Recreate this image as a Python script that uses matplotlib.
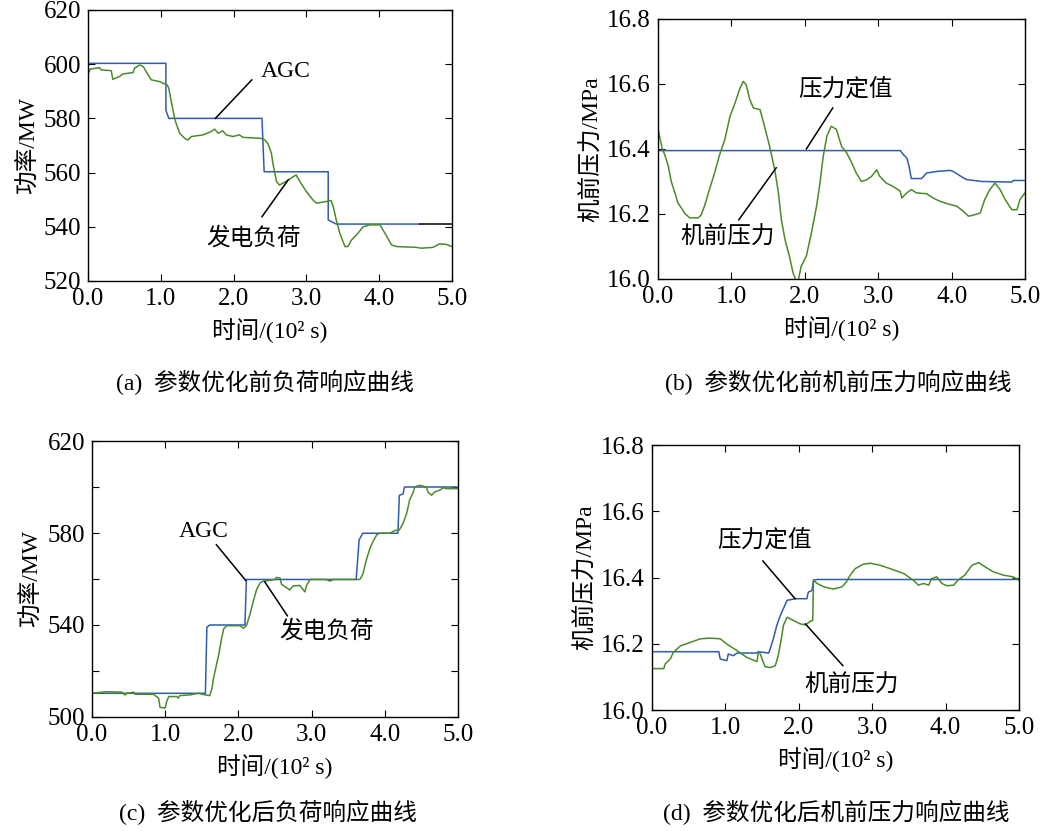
import matplotlib
matplotlib.use('Agg')
import matplotlib.pyplot as plt

plt.rcParams['font.family'] = ['Liberation Serif', 'Noto Sans CJK SC']
plt.rcParams['axes.unicode_minus'] = False

BLUE = '#2f5cad'
GREEN = '#4a8a2a'

# ---- (a) load response before optimisation ----
agc_a_t = [0.0, 1.07, 1.07, 1.11, 2.39, 2.42, 3.30, 3.30, 3.41, 4.56]
agc_a_p = [600.3, 600.3, 583.0, 580.0, 580.0, 560.3, 560.3, 542.5, 541.0, 541.0]
agc_a_tail_t = [4.56, 5.0]
agc_a_tail_p = [541.0, 541.0]
gen_a_t = [0.00, 0.03, 0.16, 0.18, 0.32, 0.34, 0.43, 0.48, 0.62, 0.64, 0.71, 0.76, 0.80, 0.87,
           0.98, 1.09, 1.11, 1.14, 1.19, 1.21, 1.26, 1.33, 1.37, 1.42, 1.58, 1.69, 1.74, 1.79,
           1.85, 1.90, 1.99, 2.08, 2.13, 2.38, 2.43, 2.47, 2.52, 2.54, 2.59, 2.63, 2.72, 2.82,
           2.86, 2.91, 3.00, 3.09, 3.14, 3.27, 3.34, 3.37, 3.41, 3.46, 3.53, 3.57, 3.62, 3.69,
           3.78, 3.87, 4.01, 4.08, 4.17, 4.24, 4.51, 4.58, 4.74, 4.83, 4.92, 5.00]
gen_a_p = [596.0, 598.2, 598.7, 597.9, 597.6, 594.4, 595.4, 596.4, 596.9, 598.5, 599.7, 599.1,
           597.2, 594.2, 593.6, 592.3, 591.1, 586.8, 580.0, 578.2, 574.5, 572.6, 572.0, 573.3,
           573.9, 575.1, 576.0, 574.5, 575.4, 573.9, 573.3, 573.9, 573.0, 572.6, 572.0, 570.8,
           567.1, 563.4, 556.7, 555.4, 556.7, 558.5, 559.1, 556.7, 553.0, 549.9, 548.7, 549.3,
           549.7, 547.4, 542.5, 537.6, 532.7, 532.7, 535.1, 537.0, 540.0, 540.7, 540.7, 537.6,
           533.3, 532.7, 532.4, 532.1, 532.4, 533.7, 533.5, 532.7]

# ---- (b) throttle pressure before optimisation ----
set_b_t = [0.0, 3.30, 3.34, 3.39, 3.42, 3.45, 3.59, 3.66, 3.80, 3.98, 4.02, 4.11, 4.20, 4.41,
           4.82, 4.84, 5.0]
set_b_p = [16.395, 16.395, 16.383, 16.372, 16.347, 16.309, 16.309, 16.326, 16.331, 16.334,
           16.331, 16.318, 16.306, 16.300, 16.298, 16.303, 16.303]
prs_b_t = [0.00, 0.02, 0.06, 0.09, 0.14, 0.18, 0.23, 0.27, 0.32, 0.36, 0.43, 0.55, 0.59, 0.64,
           0.70, 0.77, 0.84, 0.91, 0.98, 1.05, 1.11, 1.16, 1.20, 1.25, 1.30, 1.39, 1.45, 1.52,
           1.59, 1.64, 1.68, 1.73, 1.79, 1.84, 1.89, 1.91, 1.95, 2.02, 2.09, 2.16, 2.20, 2.25,
           2.30, 2.36, 2.43, 2.50, 2.57, 2.64, 2.70, 2.77, 2.84, 2.91, 2.98, 3.02, 3.11, 3.20,
           3.30, 3.32, 3.39, 3.45, 3.52, 3.66, 3.75, 3.84, 3.98, 4.07, 4.16, 4.23, 4.32, 4.39,
           4.45, 4.52, 4.59, 4.66, 4.73, 4.82, 4.89, 4.93, 5.00]
prs_b_p = [16.465, 16.439, 16.398, 16.383, 16.347, 16.300, 16.265, 16.234, 16.218, 16.203,
           16.188, 16.188, 16.198, 16.229, 16.275, 16.326, 16.383, 16.429, 16.500, 16.542,
           16.583, 16.608, 16.598, 16.552, 16.526, 16.521, 16.470, 16.408, 16.336, 16.265,
           16.183, 16.121, 16.070, 16.018, 15.990, 15.995, 16.039, 16.070, 16.142, 16.224,
           16.285, 16.377, 16.439, 16.470, 16.460, 16.408, 16.388, 16.357, 16.326, 16.300,
           16.305, 16.316, 16.336, 16.316, 16.295, 16.285, 16.270, 16.249, 16.265, 16.275,
           16.265, 16.262, 16.249, 16.239, 16.229, 16.224, 16.208, 16.193, 16.198, 16.203,
           16.244, 16.275, 16.295, 16.275, 16.244, 16.213, 16.213, 16.244, 16.265]

# ---- (c) load response after optimisation ----
agc_c_t = [0.0, 1.55, 1.57, 1.61, 2.09, 2.11, 3.61, 3.65, 3.70, 4.18, 4.20, 4.25, 4.27, 5.0]
agc_c_p = [510.3, 510.3, 539.0, 540.0, 540.0, 559.8, 559.8, 577.0, 579.9, 579.9, 596.4,
           597.0, 600.0, 600.0]
gen_c_t = [0.00, 0.20, 0.41, 0.45, 0.48, 0.57, 0.59, 0.84, 0.91, 0.93, 1.00, 1.02, 1.05, 1.16,
           1.18, 1.20, 1.34, 1.45, 1.55, 1.61, 1.64, 1.66, 1.70, 1.73, 1.77, 1.80, 1.84, 2.02,
           2.07, 2.11, 2.16, 2.20, 2.25, 2.30, 2.34, 2.50, 2.52, 2.57, 2.59, 2.66, 2.70, 2.75,
           2.84, 2.91, 2.93, 2.98, 3.20, 3.25, 3.30, 3.66, 3.70, 3.75, 3.80, 3.84, 3.89, 3.93,
           4.07, 4.14, 4.20, 4.25, 4.30, 4.34, 4.39, 4.41, 4.48, 4.57, 4.59, 4.64, 4.68, 4.75,
           4.80, 4.84, 5.00]
gen_c_p = [510.3, 511.0, 510.8, 509.6, 510.3, 510.8, 509.9, 509.9, 508.2, 504.2, 503.9, 506.7,
           508.9, 508.9, 508.2, 509.3, 509.6, 510.3, 509.6, 509.3, 512.5, 516.8, 522.5, 526.8,
           534.0, 538.3, 539.7, 539.7, 538.6, 539.7, 544.8, 549.8, 555.5, 558.4, 559.0, 559.8,
           560.7, 560.4, 557.7, 556.2, 555.2, 557.0, 557.2, 554.4, 557.0, 559.8, 559.8, 559.1,
           559.8, 559.8, 562.0, 568.4, 573.5, 576.3, 579.2, 579.9, 579.9, 581.1, 581.3, 584.2,
           588.5, 594.3, 597.8, 600.0, 600.7, 600.0, 597.8, 596.4, 597.8, 598.6, 599.7, 599.3,
           599.3]

# ---- (d) throttle pressure after optimisation ----
set_d_t = [0.0, 0.91, 0.93, 1.02, 1.04, 1.11, 1.16, 1.29, 1.43, 1.45, 1.59, 1.61, 1.66, 1.70,
           1.75, 1.79, 1.84, 1.95, 2.11, 2.13, 2.18, 2.20, 2.25, 5.0]
set_d_p = [16.176, 16.176, 16.154, 16.149, 16.169, 16.164, 16.172, 16.172, 16.172, 16.176,
           16.172, 16.184, 16.220, 16.255, 16.286, 16.306, 16.331, 16.336, 16.336, 16.356,
           16.361, 16.392, 16.394, 16.394]
prs_d_t = [0.00, 0.16, 0.18, 0.25, 0.29, 0.39, 0.52, 0.66, 0.79, 0.93, 1.02, 1.16, 1.29, 1.43,
           1.45, 1.47, 1.54, 1.61, 1.68, 1.72, 1.77, 1.79, 1.84, 1.93, 2.02, 2.09, 2.16, 2.19,
           2.20, 2.25, 2.34, 2.47, 2.59, 2.65, 2.70, 2.77, 2.88, 2.97, 3.11, 3.24, 3.43, 3.56,
           3.63, 3.70, 3.77, 3.81, 3.88, 3.95, 4.02, 4.11, 4.17, 4.26, 4.36, 4.45, 4.54, 4.65,
           4.79, 4.92, 5.00]
prs_d_p = [16.125, 16.125, 16.139, 16.154, 16.174, 16.194, 16.204, 16.215, 16.217, 16.215,
           16.199, 16.179, 16.159, 16.146, 16.176, 16.172, 16.131, 16.128, 16.134, 16.164,
           16.225, 16.255, 16.280, 16.270, 16.260, 16.257, 16.268, 16.270, 16.392, 16.382,
           16.372, 16.365, 16.372, 16.387, 16.407, 16.427, 16.440, 16.443, 16.437, 16.427,
           16.412, 16.392, 16.377, 16.382, 16.377, 16.397, 16.402, 16.382, 16.375, 16.377,
           16.392, 16.407, 16.437, 16.445, 16.432, 16.417, 16.407, 16.402, 16.392]

time_ticks = [0, 1, 2, 3, 4, 5]
time_labels = ['0.0', '1.0', '2.0', '3.0', '4.0', '5.0']
pa_ticks = [520, 540, 560, 580, 600, 620]
pc_ticks = [500, 520, 540, 560, 580, 600, 620]
pc_labels = ['500', '', '540', '', '580', '', '620']
pr_ticks = [16.0, 16.2, 16.4, 16.6, 16.8]
pr_labels = ['16.0', '16.2', '16.4', '16.6', '16.8']

captions = ['(a)  参数优化前负荷响应曲线', '(b)  参数优化前机前压力响应曲线',
            '(c)  参数优化后负荷响应曲线', '(d)  参数优化后机前压力响应曲线']

fig = plt.figure(figsize=(10.45, 8.31), dpi=100)
ax_a = fig.add_axes([0.0842, 0.6619, 0.3483, 0.3261])
ax_b = fig.add_axes([0.6297, 0.6643, 0.3512, 0.3129])
ax_c = fig.add_axes([0.0880, 0.1372, 0.3502, 0.3321])
ax_d = fig.add_axes([0.6239, 0.1456, 0.3512, 0.3189])

TICK_FS = 18
LABEL_FS = 17
NOTE_FS = 17
CAP_FS = 17
LW = 1.1


def style(ax, yticks, ylabels, ylim, ylabel):
    ax.set_xlim(0, 5)
    ax.set_ylim(*ylim)
    ax.set_xticks(time_ticks)
    ax.set_xticklabels(time_labels, fontsize=TICK_FS)
    ax.set_yticks(yticks)
    ax.set_yticklabels(ylabels, fontsize=TICK_FS)
    ax.tick_params(direction='in', top=True, right=True, length=5, width=0.8, pad=5)
    ax.set_xlabel('时间/(10² s)', fontsize=LABEL_FS, labelpad=6)
    ax.set_ylabel(ylabel, fontsize=LABEL_FS, labelpad=3)
    for sp in ax.spines.values():
        sp.set_linewidth(1.0)


def note(ax, text, p0, p1, tpos):
    ax.plot([p0[0], p1[0]], [p0[1], p1[1]], color='black', lw=1.1)
    ax.text(tpos[0], tpos[1], text, fontsize=NOTE_FS, ha='center', va='center')


# (a)
ax_a.plot(agc_a_t, agc_a_p, color=BLUE, lw=LW)
ax_a.plot(agc_a_tail_t, agc_a_tail_p, color='black', lw=LW)
ax_a.plot(gen_a_t, gen_a_p, color=GREEN, lw=LW)
style(ax_a, pa_ticks, [str(v) for v in pa_ticks], (520, 620), '功率/MW')
note(ax_a, 'AGC', (1.75, 580.0), (2.25, 594.2), (2.72, 597.2))
note(ax_a, '发电负荷', (2.75, 557.3), (2.39, 543.7), (2.27, 535.8))

# (b)
ax_b.plot(set_b_t, set_b_p, color=BLUE, lw=LW)
ax_b.plot(prs_b_t, prs_b_p, color=GREEN, lw=LW)
style(ax_b, pr_ticks, pr_labels, (16.0, 16.8), '机前压力/MPa')
note(ax_b, '压力定值', (2.02, 16.40), (2.38, 16.526), (2.56, 16.58))
note(ax_b, '机前压力', (1.61, 16.342), (1.10, 16.182), (0.95, 16.126))

# (c)
ax_c.plot(agc_c_t, agc_c_p, color=BLUE, lw=LW)
ax_c.plot(gen_c_t, gen_c_p, color=GREEN, lw=LW)
style(ax_c, pc_ticks, pc_labels, (500, 620), '功率/MW')
note(ax_c, 'AGC', (1.70, 574.9), (2.10, 559.4), (1.52, 580.6))
note(ax_c, '发电负荷', (2.36, 558.8), (2.67, 544.0), (3.20, 537.2))

# (d)
ax_d.plot(set_d_t, set_d_p, color=BLUE, lw=LW)
ax_d.plot(prs_d_t, prs_d_p, color=GREEN, lw=LW)
style(ax_d, pr_ticks, pr_labels, (16.0, 16.8), '机前压力/MPa')
note(ax_d, '压力定值', (1.51, 16.45), (1.95, 16.336), (1.53, 16.51))
note(ax_d, '机前压力', (2.09, 16.26), (2.60, 16.134), (2.72, 16.075))

fig.text(265 / 1045, 1 - 383 / 831, captions[0], fontsize=CAP_FS, ha='center', va='center')
fig.text(838 / 1045, 1 - 383 / 831, captions[1], fontsize=CAP_FS, ha='center', va='center')
fig.text(268 / 1045, 1 - 813 / 831, captions[2], fontsize=CAP_FS, ha='center', va='center')
fig.text(836 / 1045, 1 - 813 / 831, captions[3], fontsize=CAP_FS, ha='center', va='center')

fig.savefig('out.png', dpi=100)
